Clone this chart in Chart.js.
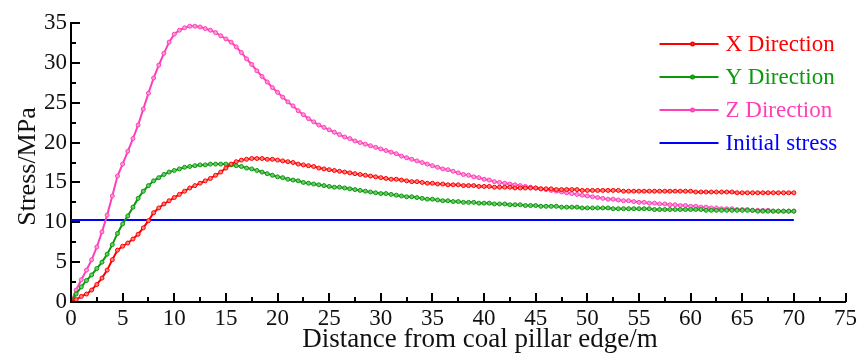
<!DOCTYPE html>
<html>
<head>
<meta charset="utf-8">
<script src="https://cdn.jsdelivr.net/npm/chart.js@4.4.0/dist/chart.umd.min.js"></script>
<style>
  html, body { margin: 0; padding: 0; background: #fff; }
</style>
</head>
<body>
<canvas id="stressChart" width="860" height="354"></canvas>
<script>
// distance from coal pillar edge (m), sampled every 0.5 m from 0 to 70
const step = 0.5;
const distance = [];
for (let i = 0; i <= 140; i++) distance.push(i * step);

// stress (MPa), 10 values per row = 5 m
const xDirection = [
  0, 0.3, 0.7, 1.0, 1.5, 2.2, 3.0, 4.0, 5.3, 6.5,
  7.0, 7.4, 7.9, 8.5, 9.3, 10.2, 11.2, 11.8, 12.3, 12.7,
  13.1, 13.5, 13.9, 14.3, 14.6, 14.9, 15.2, 15.5, 15.9, 16.3,
  16.8, 17.3, 17.6, 17.8, 17.9, 18.0, 18.0, 18.0, 17.9, 17.9,
  17.8, 17.7, 17.6, 17.5, 17.3, 17.2, 17.1, 17.0, 16.8, 16.7,
  16.6, 16.5, 16.4, 16.3, 16.2, 16.1, 16.0, 15.9, 15.8, 15.7,
  15.6, 15.5, 15.4, 15.4, 15.3, 15.2, 15.1, 15.1, 15.0, 14.9,
  14.9, 14.8, 14.8, 14.7, 14.7, 14.7, 14.6, 14.6, 14.6, 14.5,
  14.5, 14.5, 14.4, 14.4, 14.4, 14.4, 14.3, 14.3, 14.3, 14.3,
  14.3, 14.2, 14.2, 14.2, 14.1, 14.1, 14.1, 14.1, 14.1, 14.0,
  14.0, 14.0, 14.0, 14.0, 14.0, 14.0, 14.0, 13.9, 13.9, 13.9,
  13.9, 13.9, 13.9, 13.9, 13.9, 13.9, 13.9, 13.9, 13.9, 13.9,
  13.9, 13.8, 13.8, 13.8, 13.8, 13.8, 13.8, 13.8, 13.8, 13.7,
  13.7, 13.7, 13.7, 13.7, 13.7, 13.7, 13.7, 13.7, 13.7, 13.7,
  13.7
];
const yDirection = [
  0, 1.0, 1.9, 2.7, 3.4, 4.2, 5.0, 6.0, 7.2, 8.6,
  9.8, 10.8, 11.9, 13.0, 13.9, 14.6, 15.2, 15.6, 16.0, 16.3,
  16.5, 16.7, 16.9, 17.0, 17.1, 17.2, 17.2, 17.3, 17.3, 17.3,
  17.3, 17.2, 17.1, 17.0, 16.8, 16.7, 16.5, 16.3, 16.1, 15.9,
  15.7, 15.6, 15.4, 15.3, 15.2, 15.0, 14.9, 14.8, 14.7, 14.6,
  14.5, 14.4, 14.4, 14.3, 14.2, 14.1, 14.0, 13.9, 13.8, 13.7,
  13.6, 13.6, 13.5, 13.4, 13.3, 13.2, 13.2, 13.1, 13.0, 12.9,
  12.9, 12.8, 12.7, 12.7, 12.6, 12.6, 12.5, 12.5, 12.5, 12.4,
  12.4, 12.4, 12.3, 12.3, 12.3, 12.2, 12.2, 12.2, 12.1, 12.1,
  12.1, 12.0, 12.0, 12.0, 12.0, 11.9, 11.9, 11.9, 11.9, 11.8,
  11.8, 11.8, 11.8, 11.8, 11.8, 11.7, 11.7, 11.7, 11.7, 11.7,
  11.7, 11.7, 11.7, 11.6, 11.6, 11.6, 11.6, 11.6, 11.6, 11.6,
  11.6, 11.6, 11.6, 11.5, 11.5, 11.5, 11.5, 11.5, 11.5, 11.5,
  11.5, 11.5, 11.5, 11.4, 11.4, 11.4, 11.4, 11.4, 11.4, 11.4,
  11.4
];
const zDirection = [
  0, 1.5, 2.8, 4.0, 5.3, 6.9, 8.8, 10.9, 13.3, 15.8,
  17.3, 18.9, 20.5, 22.2, 24.2, 26.2, 28.1, 29.7, 31.2, 32.6,
  33.6, 34.1, 34.4, 34.6, 34.6, 34.5, 34.3, 34.1, 33.8, 33.4,
  33.0, 32.6, 32.0, 31.3, 30.5, 29.8, 29.0, 28.3, 27.6, 26.9,
  26.3, 25.7, 25.1, 24.6, 24.0, 23.5, 23.0, 22.6, 22.2, 21.9,
  21.6, 21.3, 21.0, 20.7, 20.5, 20.2, 20.0, 19.8, 19.6, 19.4,
  19.2, 19.0, 18.8, 18.6, 18.3, 18.1, 17.9, 17.7, 17.5, 17.3,
  17.1, 16.9, 16.7, 16.6, 16.4, 16.2, 16.0, 15.9, 15.7, 15.6,
  15.4, 15.3, 15.1, 15.0, 14.9, 14.8, 14.7, 14.6, 14.5, 14.4,
  14.3, 14.2, 14.1, 14.0, 13.9, 13.8, 13.7, 13.6, 13.5, 13.4,
  13.3, 13.2, 13.1, 13.0, 12.9, 12.9, 12.8, 12.7, 12.7, 12.6,
  12.5, 12.5, 12.4, 12.4, 12.3, 12.3, 12.2, 12.2, 12.1, 12.1,
  12.0, 12.0, 11.9, 11.9, 11.8, 11.8, 11.7, 11.7, 11.7, 11.6,
  11.6, 11.6, 11.5, 11.5, 11.5, 11.5, 11.4, 11.4, 11.4, 11.4,
  11.4
];
const initialStress = 10.3;
const seriesNames = ['X Direction', 'Y Direction', 'Z Direction', 'Initial stress'];
const xTitle = 'Distance from coal pillar edge/m';
const yTitle = 'Stress/MPa';

const serif = "Liberation Serif";
Chart.defaults.font.family = serif;
Chart.defaults.font.size = 23;
Chart.defaults.color = '#111';

function toPoints(values) {
  return values.map((v, i) => ({ x: distance[i], y: v }));
}

function markerLine(label, values, color, fill) {
  return {
    label: label,
    data: toPoints(values),
    borderColor: color,
    backgroundColor: fill,
    borderWidth: 2,
    pointRadius: 2,
    pointBorderWidth: 1,
    pointBackgroundColor: fill,
    pointBorderColor: color,
    tension: 0
  };
}

// inward major / minor ticks on both axes, plus the axis titles
const axisDecor = {
  id: 'axisDecor',
  afterDatasetsDraw(chart) {
    const { ctx, scales: { x, y } } = chart;
    ctx.save();
    ctx.strokeStyle = '#000';
    ctx.lineWidth = 2;
    for (let v = 0; v <= x.max; v += 2.5) {
      const px = Math.round(x.getPixelForValue(v));
      const len = v % 5 === 0 ? 9 : 5;
      ctx.beginPath();
      ctx.moveTo(px, y.bottom);
      ctx.lineTo(px, y.bottom - len);
      ctx.stroke();
    }
    for (let v = 0; v <= y.max; v += 2.5) {
      const py = Math.round(y.getPixelForValue(v));
      const len = v % 5 === 0 ? 9 : 5;
      ctx.beginPath();
      ctx.moveTo(x.left, py);
      ctx.lineTo(x.left + len, py);
      ctx.stroke();
    }

    ctx.fillStyle = '#111';
    ctx.font = '27px ' + serif;
    ctx.textAlign = 'center';
    ctx.textBaseline = 'alphabetic';
    ctx.fillText(xTitle, 480, 347);

    ctx.font = '26px ' + serif;
    ctx.translate(35, (y.top + y.bottom) / 2 + 4);
    ctx.rotate(-Math.PI / 2);
    ctx.fillText(yTitle, 0, 0);
    ctx.restore();
  }
};

// legend in the upper right corner, text in the series colour
const cornerLegend = {
  id: 'cornerLegend',
  afterDraw(chart) {
    const { ctx, chartArea } = chart;
    const left = chartArea.right - 186;
    let top = chartArea.top + 21;
    ctx.save();
    ctx.font = '23px ' + serif;
    ctx.textBaseline = 'middle';
    chart.data.datasets.forEach(ds => {
      ctx.strokeStyle = ds.borderColor;
      ctx.lineWidth = 2;
      ctx.beginPath();
      ctx.moveTo(left, top);
      ctx.lineTo(left + 59, top);
      ctx.stroke();
      if (ds.pointRadius > 0) {
        ctx.fillStyle = ds.pointBackgroundColor;
        ctx.beginPath();
        ctx.arc(left + 33, top, 1.5, 0, Math.PI * 2);
        ctx.fill();
        ctx.stroke();
      }
      ctx.fillStyle = ds.borderColor;
      ctx.fillText(ds.label, left + 66, top + 1);
      top += 33;
    });
    ctx.restore();
  }
};

new Chart(document.getElementById('stressChart'), {
  type: 'line',
  data: {
    datasets: [
      markerLine(seriesNames[0], xDirection, '#ff0000', '#ff8080'),
      markerLine(seriesNames[1], yDirection, '#0a9a0a', '#70c870'),
      markerLine(seriesNames[2], zDirection, '#ff3fb8', '#ff9ad8'),
      {
        label: seriesNames[3],
        data: [{ x: distance[0], y: initialStress }, { x: distance[distance.length - 1], y: initialStress }],
        borderColor: '#0000ff',
        borderWidth: 2,
        pointRadius: 0
      }
    ]
  },
  options: {
    responsive: false,
    animation: false,
    layout: { padding: { top: 23, right: 11, left: 0, bottom: 0 } },
    plugins: {
      legend: { display: false },
      tooltip: { enabled: false }
    },
    scales: {
      x: {
        type: 'linear',
        min: 0,
        max: 75,
        grid: { display: false, drawTicks: false },
        border: { display: true, color: '#000', width: 2 },
        ticks: {
          stepSize: 5,
          padding: 3,
          maxRotation: 0,
          color: '#111',
          font: { family: serif, size: 23 }
        },
        afterFit(scale) { scale.height = 52; }
      },
      y: {
        min: 0,
        max: 35,
        grid: { display: false, drawTicks: false },
        border: { display: true, color: '#000', width: 2 },
        ticks: {
          stepSize: 5,
          padding: 4,
          color: '#111',
          font: { family: serif, size: 23 }
        },
        afterFit(scale) { scale.width = 71; }
      }
    }
  },
  plugins: [axisDecor, cornerLegend]
});
</script>
</body>
</html>
